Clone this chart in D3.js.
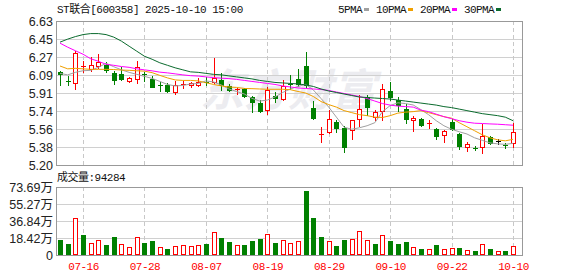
<!DOCTYPE html>
<html>
<head>
<meta charset="utf-8">
<script src="https://cdn.jsdelivr.net/npm/d3@7"></script>
<style>
  body { margin: 0; background: #fff; }
  svg text { font-family: "Liberation Sans", Arial, sans-serif; }
  .mono { font-family: "Liberation Mono", "Noto Sans CJK SC", monospace !important; }
</style>
</head>
<body>
<div id="chart"></div>
<script>
// ---- data ----
const dates = ["07-11","07-14","07-15","07-16","07-17","07-18","07-21","07-22","07-23","07-24",
  "07-25","07-28","07-29","07-30","07-31","08-01","08-04","08-05","08-06","08-07",
  "08-08","08-11","08-12","08-13","08-14","08-15","08-18","08-19","08-20","08-21",
  "08-22","08-25","08-26","08-27","08-28","08-29","09-01","09-02","09-03","09-04",
  "09-05","09-08","09-09","09-10","09-11","09-12","09-15","09-16","09-17","09-18",
  "09-19","09-22","09-23","09-24","09-25","09-26","09-29","09-30","10-09","10-10"];
const open = [6.12,6.03,6.01,6.17,6.15,6.18,6.19,6.11,6.10,6.03,
  6.05,6.10,6.05,5.99,5.99,5.92,5.99,5.99,5.99,6.02,
  6.02,6.04,5.98,5.94,5.95,5.88,5.82,5.75,5.89,5.86,
  6.00,6.05,6.18,5.77,5.50,5.53,5.63,5.57,5.55,5.66,
  5.88,5.68,5.74,5.93,5.85,5.76,5.65,5.66,5.61,5.56,
  5.50,5.63,5.51,5.38,5.37,5.38,5.48,5.44,5.40,5.42];
const high = [6.13,6.08,6.33,6.23,6.27,6.30,6.22,6.13,6.17,6.07,
  6.23,6.12,6.08,6.02,6.01,6.03,6.03,6.02,6.06,6.07,
  6.26,6.11,6.00,5.96,5.96,5.89,5.85,5.97,5.92,6.04,
  6.09,6.15,6.32,5.84,5.58,5.75,5.65,5.59,5.65,5.90,
  5.90,5.75,6.00,6.02,5.88,5.81,5.69,5.67,5.65,5.57,
  5.55,5.66,5.52,5.43,5.39,5.61,5.49,5.46,5.42,5.62];
const low = [5.99,5.99,5.95,6.12,6.13,6.16,6.12,6.00,6.04,6.02,
  6.01,6.03,5.97,5.93,5.92,5.91,5.96,5.97,5.98,5.99,
  6.01,5.94,5.93,5.91,5.88,5.73,5.73,5.71,5.83,5.85,
  5.95,5.98,5.96,5.66,5.43,5.52,5.53,5.33,5.46,5.59,
  5.70,5.65,5.65,5.85,5.74,5.62,5.54,5.59,5.57,5.46,
  5.43,5.55,5.36,5.34,5.35,5.32,5.41,5.41,5.37,5.38];
const close = [6.10,6.02,6.31,6.18,6.19,6.22,6.14,6.04,6.05,6.06,
  6.17,6.09,5.97,5.98,5.93,5.99,6.00,6.01,6.02,6.01,
  6.06,5.99,5.94,5.95,5.89,5.83,5.74,5.94,5.87,5.98,
  5.99,6.00,5.99,5.67,5.51,5.66,5.57,5.38,5.65,5.76,
  5.78,5.73,5.95,5.88,5.80,5.66,5.67,5.60,5.62,5.49,
  5.54,5.56,5.39,5.41,5.36,5.49,5.42,5.44,5.39,5.53];
// volume in 万手
const volume = [16.3,11.9,39.8,21.7,12.6,16.3,10.8,19.5,11.9,8.3,
  19.1,13.0,15.2,8.3,6.5,9.4,10.8,9.8,10.5,11.9,
  24.6,18.4,14.4,10.5,10.8,15.2,17.3,22.8,13.0,16.3,
  12.6,15.2,69.4,40.1,19.5,15.2,9.8,16.3,17.3,26.0,
  16.3,11.9,21.3,15.2,11.9,14.1,8.3,6.5,6.1,10.8,
  6.1,7.2,7.2,5.0,4.3,11.6,6.1,4.0,4.3,9.43];
const ma5 = [6.11,6.095,6.12,6.136,6.14,6.17,6.21,6.176,6.145,6.12,
  6.10,6.08,6.06,6.03,6.00,5.985,5.99,6.004,6.01,6.035,
  6.025,5.995,5.955,5.93,5.905,5.862,5.835,5.845,5.875,5.92,
  5.955,5.98,6.00,5.945,5.86,5.775,5.675,5.575,5.555,5.57,
  5.59,5.62,5.73,5.79,5.818,5.81,5.796,5.75,5.70,5.64,
  5.59,5.555,5.53,5.508,5.47,5.445,5.42,5.41,5.405,5.415];
const ma10 = [6.183,6.155,6.16,6.155,6.15,6.15,6.15,6.148,6.143,6.14,
  6.136,6.132,6.117,6.09,6.065,6.045,6.04,6.04,6.035,6.017,
  6.00,5.985,5.975,5.97,5.96,5.958,5.955,5.952,5.952,5.952,
  5.948,5.93,5.915,5.88,5.83,5.80,5.775,5.74,5.72,5.70,
  5.69,5.675,5.672,5.69,5.715,5.725,5.73,5.74,5.72,5.70,
  5.68,5.665,5.62,5.58,5.54,5.50,5.47,5.45,5.44,5.455];
const ma20 = [6.41,6.37,6.335,6.30,6.255,6.23,6.20,6.19,6.178,6.17,
  6.155,6.145,6.135,6.122,6.115,6.105,6.095,6.087,6.083,6.075,
  6.068,6.062,6.058,6.05,6.04,6.03,6.02,6.01,6.00,5.985,
  5.975,5.965,5.96,5.955,5.95,5.94,5.925,5.91,5.895,5.88,
  5.86,5.835,5.81,5.795,5.785,5.78,5.775,5.745,5.73,5.705,
  5.68,5.66,5.64,5.625,5.615,5.612,5.608,5.605,5.60,5.595];
const ma30 = [6.42,6.45,6.475,6.495,6.505,6.505,6.495,6.47,6.43,6.38,
  6.33,6.28,6.25,6.215,6.19,6.165,6.145,6.125,6.12,6.11,
  6.10,6.095,6.085,6.075,6.065,6.055,6.04,6.03,6.02,6.015,
  6.01,6.005,5.995,5.98,5.955,5.935,5.92,5.905,5.89,5.875,
  5.87,5.865,5.86,5.855,5.845,5.835,5.825,5.815,5.805,5.795,
  5.78,5.77,5.755,5.74,5.725,5.71,5.70,5.69,5.675,5.64];

const priceLabels = ["5.20","5.38","5.56","5.74","5.91","6.09","6.27","6.45","6.63"];
const volLabels = ["0","18.42万","36.84万","55.27万","73.69万"];
const dateTicks = ["07-16","07-28","08-07","08-19","08-29","09-10","09-22","10-10"];
const maNames = ["5PMA","10PMA","20PMA","30PMA"];
const maColors = ["#a0a0a0","#f0a000","#ff00ff","#0b6b2e"];
const title = "ST联合[600358] 2025-10-10 15:00";
const volTitle = "成交量:94284";

// ---- layout ----
const W = 578, H = 276;
const P = { left: 56, right: 522, top: 21, bottom: 165 };
const V = { top: 187, bottom: 255 };
const upColor = "#ff0000", downColor = "#008000";

const svg = d3.select("#chart").append("svg")
  .attr("width", W).attr("height", H);

const x = d3.scalePoint().domain(dates).range([60, 513]);
const y = d3.scaleLinear().domain([5.20, 6.63]).range([P.bottom, P.top]);
const yv = d3.scaleLinear().domain([0, 73.69]).range([V.bottom, V.top]);

const priceTicks = d3.range(priceLabels.length).map(k => 5.20 + k * (6.63 - 5.20) / (priceLabels.length - 1));
const volTicks = d3.range(volLabels.length).map(k => k * 73.69 / (volLabels.length - 1));
const px = d => Math.round(x(d));

// watermark
svg.append("text")
  .attr("x", 200).attr("y", 106)
  .attr("fill", "#ececf0")
  .attr("font-size", "44px").attr("font-weight", "bold").attr("font-style", "italic")
  .style("font-family", "'Noto Sans CJK SC', sans-serif")
  .text("东方财富");

// horizontal grid
const grid = svg.append("g").attr("shape-rendering", "crispEdges");
grid.selectAll(".hp").data(priceTicks.slice(1, -1)).join("line")
  .attr("x1", P.left).attr("x2", P.right)
  .attr("y1", d => Math.round(y(d)) + 0.5).attr("y2", d => Math.round(y(d)) + 0.5)
  .attr("stroke", "#d0d0d0");
grid.selectAll(".hv").data(volTicks.slice(1, -1)).join("line")
  .attr("x1", P.left).attr("x2", P.right)
  .attr("y1", d => Math.round(yv(d)) + 0.5).attr("y2", d => Math.round(yv(d)) + 0.5)
  .attr("stroke", "#d0d0d0");

// vertical dashed
[[P.top, P.bottom], [V.top, V.bottom]].forEach(([a, b]) => {
  grid.selectAll(null).data(dateTicks).join("line")
    .attr("x1", d => px(d) + 0.5).attr("x2", d => px(d) + 0.5)
    .attr("y1", a).attr("y2", b)
    .attr("stroke", "#c8c8c8").attr("stroke-dasharray", "4,3");
});

// candles
const rows = dates.map((d, i) => ({
  d, o: open[i], h: high[i], l: low[i], c: close[i], v: volume[i],
  prev: i ? close[i - 1] : open[i]
}));
const candleColor = r => r.c > r.o ? upColor : r.c < r.o ? downColor : "#000";

const cg = svg.append("g").attr("shape-rendering", "crispEdges");
rows.forEach(r => {
  const cx = px(r.d);
  const col = candleColor(r);
  const top = Math.round(y(Math.max(r.o, r.c)));
  const bot = Math.round(y(Math.min(r.o, r.c)));
  cg.append("line")
    .attr("x1", cx + 0.5).attr("x2", cx + 0.5)
    .attr("y1", Math.round(y(r.h))).attr("y2", Math.round(y(r.l)) + 1)
    .attr("stroke", col);
  if (bot - top <= 1) {
    cg.append("rect").attr("x", cx - 2).attr("y", top).attr("width", 5).attr("height", 1).attr("fill", col);
  } else if (r.c > r.o) {
    cg.append("rect").attr("x", cx - 1.5).attr("y", top + 0.5)
      .attr("width", 4).attr("height", bot - top)
      .attr("fill", "#fff").attr("stroke", col);
  } else {
    cg.append("rect").attr("x", cx - 2).attr("y", top)
      .attr("width", 5).attr("height", bot - top + 1).attr("fill", col);
  }
});

// moving averages
const line = d3.line().x((v, i) => x(dates[i])).y(v => y(v));
[ma5, ma10, ma20, ma30].forEach((s, k) => {
  svg.append("path").datum(s)
    .attr("d", line).attr("fill", "none")
    .attr("stroke", maColors[k]).attr("stroke-width", 1);
});

// volume bars (colour from close vs previous close)
const vg = svg.append("g").attr("shape-rendering", "crispEdges");
rows.forEach(r => {
  const cx = px(r.d);
  const t = Math.round(yv(r.v));
  if (r.c > r.prev) {
    vg.append("rect").attr("x", cx - 1.5).attr("y", t + 0.5)
      .attr("width", 4).attr("height", V.bottom - t - 1)
      .attr("fill", "#fff").attr("stroke", upColor);
  } else {
    vg.append("rect").attr("x", cx - 2).attr("y", t)
      .attr("width", 5).attr("height", V.bottom - t).attr("fill", downColor);
  }
});

// frames
[[P.top, P.bottom], [V.top, V.bottom]].forEach(([a, b]) => {
  svg.append("rect")
    .attr("x", P.left + 0.5).attr("y", a + 0.5)
    .attr("width", P.right - P.left).attr("height", b - a)
    .attr("fill", "none").attr("stroke", "#999").attr("shape-rendering", "crispEdges");
});

// axes
const yAxis = svg.append("g").attr("transform", `translate(${P.left - 2},0)`)
  .call(d3.axisLeft(y).tickValues(priceTicks).tickFormat((d, i) => priceLabels[i]).tickSize(0).tickPadding(1));
const vAxis = svg.append("g").attr("transform", `translate(${P.left - 2},0)`)
  .call(d3.axisLeft(yv).tickValues(volTicks).tickFormat((d, i) => volLabels[i]).tickSize(0).tickPadding(1));
[yAxis, vAxis].forEach(g => {
  g.select(".domain").remove();
  g.selectAll("text").attr("font-size", "12.5px").attr("fill", "#222")
    .style("font-family", "'Liberation Sans', 'Noto Sans CJK SC', sans-serif");
});

const xAxis = svg.append("g").attr("transform", `translate(0,${V.bottom})`)
  .call(d3.axisBottom(x).tickValues(dateTicks).tickSize(0).tickPadding(7));
xAxis.select(".domain").remove();
xAxis.selectAll("text").attr("class", "mono").attr("font-size", "11px")
  .attr("letter-spacing", "-0.5px").attr("fill", "#ff0000");

// title and volume label
svg.append("text").attr("class", "mono")
  .attr("x", 57).attr("y", 13).attr("font-size", "11px").attr("letter-spacing", "-0.5px")
  .attr("fill", "#111").text(title);
svg.append("text").attr("class", "mono")
  .attr("x", 57).attr("y", 181).attr("font-size", "11px").attr("letter-spacing", "-0.5px")
  .attr("fill", "#111").text(volTitle);

// legend
let lx = 338;
maNames.forEach((name, k) => {
  const t = svg.append("text").attr("class", "mono")
    .attr("x", lx).attr("y", 13).attr("font-size", "11px").attr("letter-spacing", "-0.6px")
    .attr("fill", "#111").text(name);
  const w = t.node().getComputedTextLength();
  svg.append("rect").attr("x", Math.round(lx + w + 2)).attr("y", 8)
    .attr("width", 5).attr("height", 3).attr("fill", maColors[k]);
  lx += w + 14;
});
</script>
</body>
</html>
